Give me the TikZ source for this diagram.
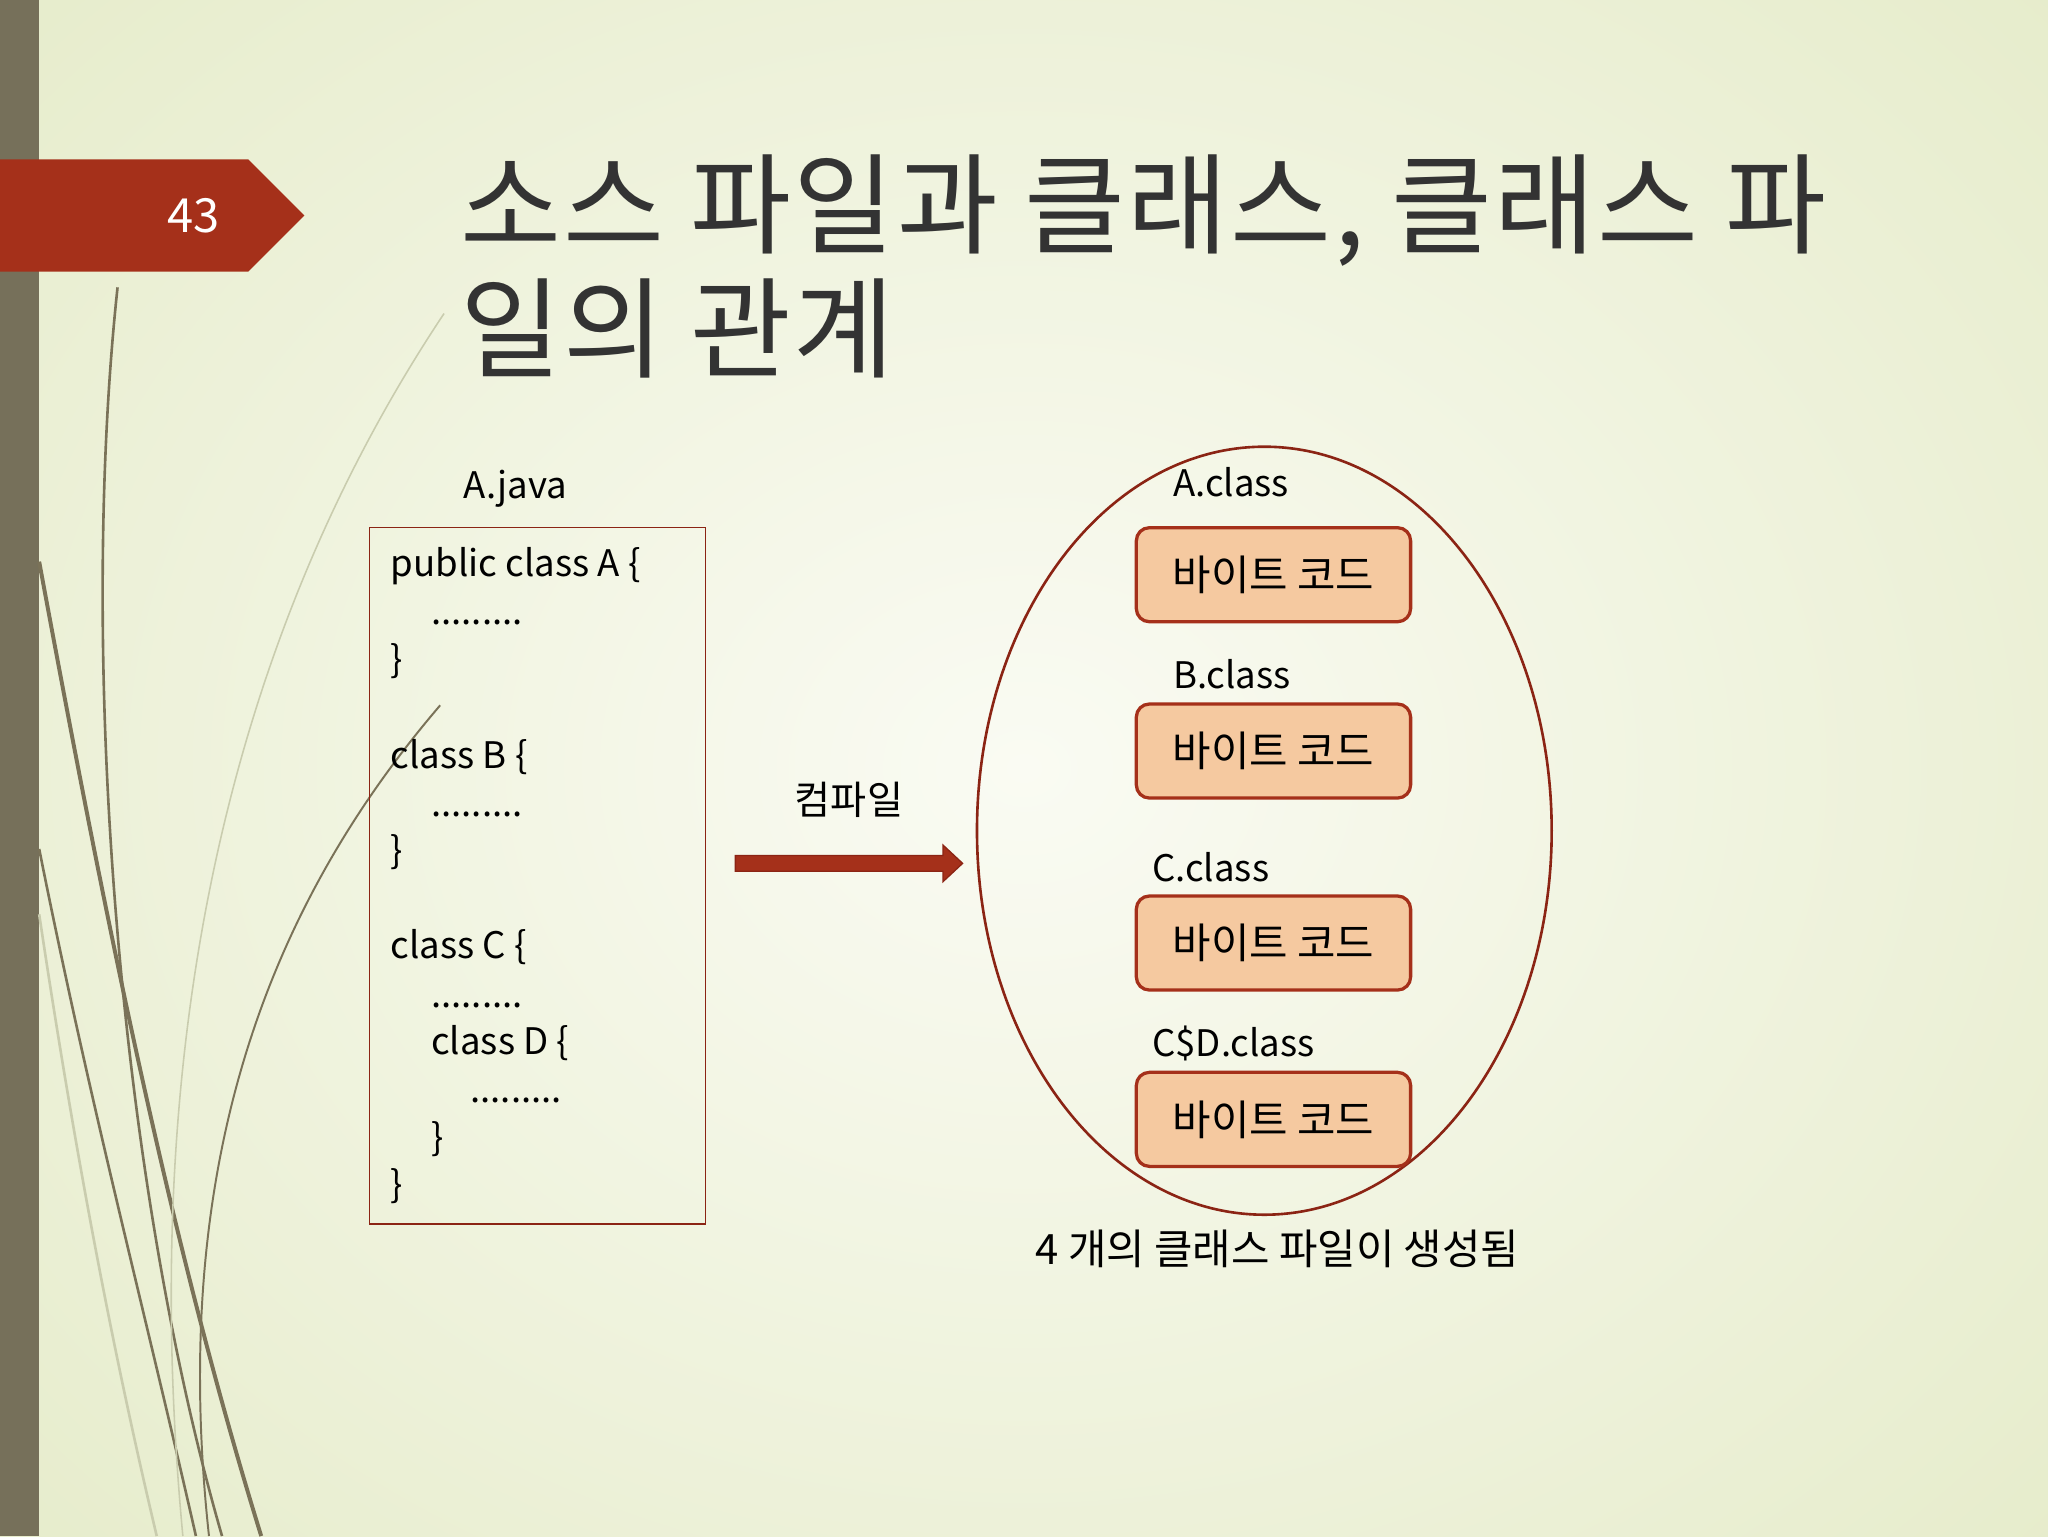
\documentclass[tikz,border=0pt]{standalone}
\usepackage{fontspec}
\setmainfont{Noto Sans CJK KR}
\usetikzlibrary{shapes.geometric}
\definecolor{bgA}{HTML}{FAFBF3}
\definecolor{bgB}{HTML}{E6ECCB}
\definecolor{bar}{HTML}{76705A}
\definecolor{tag}{HTML}{A5301A}
\definecolor{dred}{HTML}{8B2414}
\definecolor{boxfill}{HTML}{F5C9A0}
\definecolor{grass}{HTML}{7A7258}
\definecolor{grassl}{HTML}{C9CCAE}
\tikzset{
  code/.style={anchor=base west,font=\fontsize{28}{30}\selectfont,text=black,inner sep=0},
  lbl/.style={anchor=base west,font=\fontsize{28}{30}\selectfont,text=black,inner sep=0},
  bc/.style={draw=tag,line width=2.5pt,fill=boxfill,rounded corners=10pt,minimum width=210pt,minimum height=72pt,font=\fontsize{32}{34}\selectfont,text=black},
}
\begin{document}
\begin{tikzpicture}[x=1pt,y=-1pt]
\useasboundingbox (0,0) rectangle (1568,1176);
\shade[inner color=bgA,outer color=bgB] (-300,-300) rectangle (1868,1476);
\fill[bar] (0,0) rectangle (30,1176);
% grass
\draw[grass,line width=3pt] (30,430) .. controls (80,700) and (130,950) .. (200,1176);
\draw[grass,line width=2pt] (90,220) .. controls (60,500) and (90,900) .. (170,1176);
\draw[grass,line width=2pt] (30,650) .. controls (70,850) and (110,1000) .. (150,1176);
\draw[grassl,line width=2pt] (30,700) .. controls (60,900) and (90,1050) .. (120,1176);
\draw[grass,line width=1.5pt] (337,540) .. controls (200,700) and (130,900) .. (160,1176);
\draw[grassl,line width=1.2pt] (340,240) .. controls (200,450) and (100,750) .. (140,1176);
% tag
\fill[tag] (0,122) -- (190,122) -- (233,165) -- (190,208) -- (0,208) -- cycle;
\node[text=white,font=\fontsize{36}{38}\selectfont] (num) at (148,165) {43};
% title
\node[anchor=base west,inner sep=0,text=black!80,font=\fontsize{84}{90}\selectfont\addfontfeature{LetterSpace=2}] (t1) at (352,188) {소스 파일과 클래스, 클래스 파};
\node[anchor=base west,inner sep=0,text=black!80,font=\fontsize{84}{90}\selectfont\addfontfeature{LetterSpace=2}] (t2) at (352,283) {일의 관계};
% source
\node[lbl] (aj) at (355,382) {A.java};
\draw[dred,line width=1pt] (283,404) rectangle (540,937);
\node[code] (c1) at (299,441) {public class A \{};
\node[code] (c2) at (330,478) {.........};
\node[code] (c3) at (299,515) {\}};
\node[code] (c4) at (299,588) {class B \{};
\node[code] (c5) at (330,625) {.........};
\node[code] (c6) at (299,661) {\}};
\node[code] (c7) at (299,734) {class C \{};
\node[code] (c8) at (330,771) {.........};
\node[code] (c9) at (330,807) {class D \{};
\node[code] (c10) at (360,844) {.........};
\node[code] (c11) at (330,881) {\}};
\node[code] (c12) at (299,917) {\}};
% compile arrow
\node[font=\fontsize{30}{32}\selectfont] (cmp) at (650,612) {컴파일};
\fill[tag,draw=dred,line width=1pt] (563,655) -- (722,655) -- (722,647) -- (737,661) -- (722,675) -- (722,667) -- (563,667) -- cycle;
% ellipse
\node[draw=dred,line width=2pt,ellipse,minimum width=440pt,minimum height=588pt] (el) at (968,636) {};
\node[lbl] (la) at (898,380) {A.class};
\node[lbl] (lb) at (898,527) {B.class};
\node[lbl] (lc) at (882,675) {C.class};
\node[lbl] (ld) at (882,809) {C\$D.class};
\node[bc] (ba) at (975,440) {바이트 코드};
\node[bc] (bb) at (975,575) {바이트 코드};
\node[bc] (bcc) at (975,722) {바이트 코드};
\node[bc] (bd) at (975,857) {바이트 코드};
\node[font=\fontsize{32}{34}\selectfont] (cap) at (978,956) {4 개의 클래스 파일이 생성됨};
\end{tikzpicture}
\end{document}
